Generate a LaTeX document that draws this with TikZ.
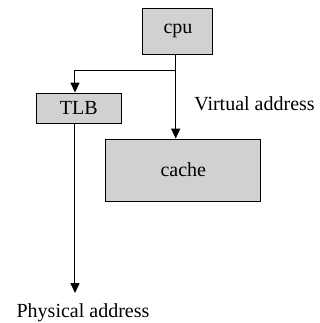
\documentclass[tikz,border=0pt]{standalone}
\usepackage{fontspec}
\setmainfont{Liberation Serif}
\usetikzlibrary{arrows.meta}

\tikzset{
	unit/.style = {draw, fill=black!18, line width=0.5pt, inner sep=0pt},
	link/.style = {line width=0.5pt, -{Triangle[width=4.6pt,length=5pt]}},
}

\begin{document}
\begin{tikzpicture}[x=0.5pt,y=-0.5pt,font=\fontsize{10}{12}\selectfont]
%
	\useasboundingbox (0,0) rectangle (320,323);
	\node[unit, minimum width=35pt, minimum height=23pt] (cpu) at (178,31) {cpu};
	\node[unit, minimum width=42.5pt, minimum height=15pt] (tlb) at (78.8,108) {TLB};
	\node[unit, minimum width=77.3pt, minimum height=31pt] (cache) at (183.3,170) {cache};
	\node (va) at (254.5,104) {Virtual address};
	\node (pa) at (83,313) {Physical address};
	\coordinate (split) at (175.7,70);
	\coordinate (tlbx) at (75,0);
	\coordinate (phys) at (75,293);
%
	\draw[link] (cpu.south -| split) -- (split) -- (cache.north -| split);
	\draw[link] (split) -| (tlb.north -| tlbx);
	\draw[link] (tlb.south -| tlbx) -- (phys);
%
\end{tikzpicture}
\end{document}
